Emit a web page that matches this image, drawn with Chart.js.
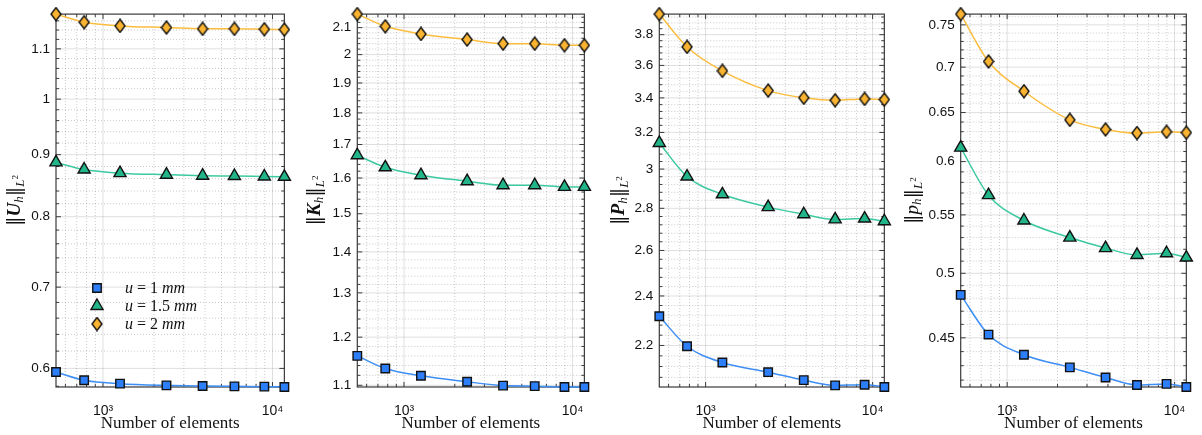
<!DOCTYPE html>
<html>
<head>
<meta charset="utf-8">
<script src="https://cdn.jsdelivr.net/npm/chart.js@4.4.1/dist/chart.umd.min.js"></script>
<style>
  html, body { margin: 0; padding: 0; background: #fff; }
  #wrap { position: relative; width: 1202px; height: 435px; }
  canvas { position: absolute; top: 0; }
</style>
</head>
<body>
<div id="wrap">
  <canvas id="c0" width="300" height="435" style="left:0px"></canvas>
  <canvas id="c1" width="300" height="435" style="left:300px"></canvas>
  <canvas id="c2" width="300" height="435" style="left:600px"></canvas>
  <canvas id="c3" width="302" height="435" style="left:900px"></canvas>
</div>
<script>
// mesh sizes (x axis, shared by all panels)
const elements = [528, 774, 1260, 2368, 3870, 5964, 8954, 11754];
const seriesNames = ['u = 1 mm', 'u = 1.5 mm', 'u = 2 mm'];

// ||U_h||
const uSmall = [0.5959, 0.5866, 0.5829, 0.5810, 0.5803, 0.5799, 0.5796, 0.5792];
const uMid = [0.8869, 0.8750, 0.8690, 0.8664, 0.8648, 0.8643, 0.8635, 0.8630];
const uLarge = [1.175, 1.157, 1.149, 1.1455, 1.1426, 1.1426, 1.1418, 1.141];
const uTicks = [0.6, 0.7, 0.8, 0.9, 1, 1.1];

// ||K_h||
const kSmall = [1.160, 1.134, 1.119, 1.107, 1.0994, 1.0983, 1.0966, 1.0966];
const kMid = [1.6673, 1.6314, 1.6083, 1.5909, 1.5794, 1.5794, 1.5746, 1.5746];
const kLarge = [2.152, 2.105, 2.076, 2.055, 2.040, 2.040, 2.034, 2.034];
const kTicks = [1.1, 1.2, 1.3, 1.4, 1.5, 1.6, 1.7, 1.8, 1.9, 2, 2.1];

// ||P_h||
const pSmall = [2.316, 2.197, 2.135, 2.099, 2.070, 2.051, 2.053, 2.045];
const pMid = [3.141, 2.961, 2.870, 2.806, 2.771, 2.746, 2.750, 2.737];
const pLarge = [3.94, 3.719, 3.566, 3.444, 3.401, 3.386, 3.394, 3.39];
const pTicks = [2.2, 2.4, 2.6, 2.8, 3, 3.2, 3.4, 3.6, 3.8];

// ||p_h||
const prSmall = [0.4827, 0.4524, 0.4377, 0.4288, 0.4218, 0.4167, 0.4174, 0.4153];
const prMid = [0.6138, 0.568, 0.545, 0.530, 0.521, 0.5152, 0.5166, 0.513];
const prLarge = [0.7633, 0.7065, 0.673, 0.6423, 0.6323, 0.6286, 0.6299, 0.629];
const prTicks = [0.45, 0.5, 0.55, 0.6, 0.65, 0.7, 0.75];

const xMajor = [1000, 10000];
const xMinor = [600, 700, 800, 900, 2000, 3000, 4000, 5000, 6000, 7000, 8000, 9000];

const SERIF = '"Liberation Serif", "Times New Roman", serif';
const SANS = '"Liberation Sans", Arial, sans-serif';

function diamondMarker(fill) {
  const c = document.createElement('canvas');
  c.width = 12; c.height = 15;
  const g = c.getContext('2d');
  g.beginPath();
  g.moveTo(6, 1); g.lineTo(11, 7.5); g.lineTo(6, 14); g.lineTo(1, 7.5);
  g.closePath();
  g.fillStyle = fill; g.fill();
  g.lineWidth = 1.4; g.strokeStyle = '#111'; g.stroke();
  return c;
}

const styles = [
  {line: '#3d8ef5', fill: '#2d7ff9', point: 'rect', radius: 6},
  {line: '#3cc9a0', fill: '#22b58a', point: 'triangle', radius: 7},
  {line: '#fcbd3f', fill: '#fbb431', point: diamondMarker('#fbb431'), radius: 6}
];

const supDigits = {'0': '\u2070', '1': '\u00b9', '2': '\u00b2', '3': '\u00b3', '4': '\u2074', '5': '\u2075'};

// draws a run of differently styled text pieces, centred on (cx, cy)
function drawRich(ctx, pieces, cx, cy, angle) {
  ctx.save();
  ctx.translate(cx, cy);
  ctx.rotate(angle);
  ctx.textBaseline = 'alphabetic';
  ctx.textAlign = 'left';
  ctx.fillStyle = '#111';
  let total = 0;
  pieces.forEach(p => { ctx.font = p.font; p.w = ctx.measureText(p.t).width; total += p.w; });
  let x = -total / 2;
  pieces.forEach(p => {
    ctx.font = p.font;
    ctx.fillText(p.t, x, 5 + (p.dy || 0));
    x += p.w;
  });
  ctx.restore();
}

function normTitle(sym, bold) {
  return [
    {t: '\u2016', font: `19px "DejaVu Serif", ${SERIF}`},
    {t: sym, font: `${bold ? 'bold ' : ''}italic 19px ${SERIF}`},
    {t: 'h', font: `italic 13px ${SERIF}`, dy: 3},
    {t: '\u2016', font: `19px "DejaVu Serif", ${SERIF}`},
    {t: 'L', font: `italic 13px ${SERIF}`, dy: 4},
    {t: '2', font: `9px ${SERIF}`, dy: -2}
  ];
}

function legendPieces(name) {
  const m = name.match(/^(\w) = ([\d.]+) (\w+)$/);
  return [
    {t: m[1], font: `italic 16px ${SERIF}`},
    {t: ' = ', font: `16px ${SERIF}`},
    {t: m[2] + ' ', font: `16px ${SERIF}`},
    {t: m[3], font: `italic 16px ${SERIF}`}
  ];
}

function minorValues(scale, step) {
  const out = [];
  const lo = Math.ceil(scale.min / step - 1e-9);
  const hi = Math.floor(scale.max / step + 1e-9);
  for (let i = lo; i <= hi; i++) out.push(Math.round(i * step * 1e4) / 1e4);
  return out;
}

const framePlugin = {
  id: 'frame',
  beforeDatasetsDraw(chart, args, opts) {
    const {ctx, chartArea: a, scales: {x, y}} = chart;
    const yMinor = minorValues(y, opts.step).filter(v => !opts.ticks.some(t => Math.abs(t - v) < 1e-6));
    const xs = v => x.getPixelForValue(v);
    const ys = v => y.getPixelForValue(v);
    ctx.save();

    // dotted minor grid
    ctx.lineWidth = 1;
    ctx.strokeStyle = 'rgba(0,0,0,0.22)';
    ctx.setLineDash([1, 2]);
    ctx.beginPath();
    xMinor.forEach(v => { const px = xs(v); if (px > a.left && px < a.right) { ctx.moveTo(px, a.top); ctx.lineTo(px, a.bottom); } });
    yMinor.forEach(v => { const py = ys(v); if (py > a.top && py < a.bottom) { ctx.moveTo(a.left, py); ctx.lineTo(a.right, py); } });
    ctx.stroke();

    // solid major grid
    ctx.setLineDash([]);
    ctx.strokeStyle = 'rgba(0,0,0,0.13)';
    ctx.beginPath();
    xMajor.forEach(v => { const px = xs(v); ctx.moveTo(px, a.top); ctx.lineTo(px, a.bottom); });
    opts.ticks.forEach(v => { const py = ys(v); ctx.moveTo(a.left, py); ctx.lineTo(a.right, py); });
    ctx.stroke();

    // axes box with inward ticks on every side
    ctx.strokeStyle = '#3a3a3a';
    ctx.lineWidth = 1.2;
    ctx.strokeRect(a.left, a.top, a.right - a.left, a.bottom - a.top);
    ctx.lineWidth = 1;
    ctx.beginPath();
    const xTick = (v, len) => { const px = xs(v); ctx.moveTo(px, a.bottom); ctx.lineTo(px, a.bottom - len); ctx.moveTo(px, a.top); ctx.lineTo(px, a.top + len); };
    const yTick = (v, len) => { const py = ys(v); if (py < a.top || py > a.bottom) return; ctx.moveTo(a.left, py); ctx.lineTo(a.left + len, py); ctx.moveTo(a.right, py); ctx.lineTo(a.right - len, py); };
    xMinor.forEach(v => { const px = xs(v); if (px > a.left && px < a.right) xTick(v, 3); });
    xMajor.forEach(v => xTick(v, 5));
    yMinor.forEach(v => yTick(v, 3));
    opts.ticks.forEach(v => yTick(v, 5));
    ctx.stroke();
    ctx.restore();
  },
  afterDraw(chart, args, opts) {
    const {ctx, chartArea: a} = chart;
    ctx.save();
    ctx.fillStyle = '#111';
    ctx.font = `17px ${SERIF}`;
    ctx.textAlign = 'center';
    ctx.textBaseline = 'alphabetic';
    ctx.fillText('Number of elements', (a.left + a.right) / 2, 428);
    ctx.restore();
    drawRich(ctx, normTitle(opts.sym, opts.bold), opts.titleX, (a.top + a.bottom) / 2, -Math.PI / 2);

    if (opts.legend) {
      chart.data.datasets.forEach((ds, i) => {
        const my = 288 + i * 18;
        ctx.save();
        ctx.fillStyle = ds.pointBackgroundColor;
        ctx.strokeStyle = ds.pointBorderColor;
        ctx.lineWidth = ds.pointBorderWidth;
        Chart.helpers.drawPoint(ctx, {pointStyle: ds.pointStyle, radius: ds.pointRadius, borderWidth: ds.pointBorderWidth, rotation: 0}, 97, my);
        ctx.restore();
        const pieces = legendPieces(ds.label);
        ctx.save();
        let total = 0;
        pieces.forEach(p => { ctx.font = p.font; total += ctx.measureText(p.t).width; });
        ctx.restore();
        drawRich(ctx, pieces, 125 + total / 2, my, 0);
      });
    }
  }
};

function makePanel(id, series, ticks, step, sym, bold, left, right, titleX, legend) {
  const all = series.flat();
  return new Chart(document.getElementById(id), {
    type: 'line',
    data: {
      datasets: series.map((vals, i) => ({
        label: seriesNames[i],
        data: vals.map((v, j) => ({x: elements[j], y: v})),
        borderColor: styles[i].line,
        borderWidth: 1.5,
        pointStyle: styles[i].point,
        pointRadius: styles[i].radius,
        pointBackgroundColor: styles[i].fill,
        pointBorderColor: '#111',
        pointBorderWidth: 1.4,
        cubicInterpolationMode: 'monotone',
        fill: false,
        clip: false
      }))
    },
    options: {
      responsive: false,
      animation: false,
      layout: {padding: {top: 14, right: right, left: 0, bottom: 0}},
      plugins: {
        legend: {display: false},
        tooltip: {enabled: false},
        frame: {ticks: ticks, step: step, sym: sym, bold: bold, titleX: titleX, legend: legend}
      },
      scales: {
        x: {
          type: 'logarithmic',
          min: elements[0],
          max: elements[elements.length - 1],
          grid: {display: false, drawTicks: false},
          border: {display: false},
          afterBuildTicks: s => { s.ticks = xMajor.map(v => ({value: v})); },
          afterFit: s => { s.height = 48; },
          ticks: {
            autoSkip: false,
            maxRotation: 0,
            padding: 16,
            color: '#111',
            font: {family: SANS, size: 14},
            callback: v => '10' + String(Math.round(Math.log10(v))).split('').map(c => supDigits[c]).join('')
          }
        },
        y: {
          type: 'logarithmic',
          min: Math.min(...all),
          max: Math.max(...all),
          grid: {display: false, drawTicks: false},
          border: {display: false},
          afterBuildTicks: s => { s.ticks = ticks.map(v => ({value: v})); },
          afterFit: s => { s.width = left; },
          ticks: {
            autoSkip: false,
            padding: 6,
            color: '#111',
            font: {family: SANS, size: 13.5},
            callback: v => String(Number(v.toFixed(2)))
          }
        }
      }
    },
    plugins: [framePlugin]
  });
}

makePanel('c0', [uSmall, uMid, uLarge], uTicks, 0.02, 'U', true, 56, 14, 15, true);
makePanel('c1', [kSmall, kMid, kLarge], kTicks, 0.02, 'K', true, 57.3, 12.7, 15, false);
makePanel('c2', [pSmall, pMid, pLarge], pTicks, 0.04, 'P', true, 59.3, 11.3, 19, false);
makePanel('c3', [prSmall, prMid, prLarge], prTicks, 0.01, 'p', false, 60.7, 12, 13, false);
</script>
</body>
</html>
